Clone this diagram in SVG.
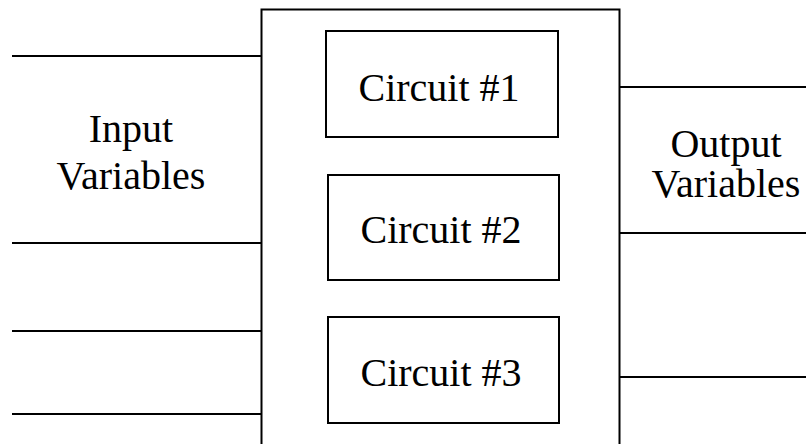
<svg xmlns="http://www.w3.org/2000/svg" width="806" height="444" viewBox="0 0 806 444">
  <style>
    .box { fill: #fff; stroke: #000; stroke-width: 2; }
    .wire { stroke: #000; stroke-width: 2; fill: none; }
    .label { font-family: "Liberation Serif", "Times New Roman", serif; font-size: 40px; fill: #000; text-anchor: middle; }
  </style>
  <rect width="806" height="444" fill="#fff"/>

  <!-- input and output wires -->
  <g id="connectors">
    <line class="wire" x1="12" y1="56" x2="262" y2="56"/>
    <line class="wire" x1="12" y1="243" x2="262" y2="243"/>
    <line class="wire" x1="12" y1="331" x2="262" y2="331" stroke-width="3"/>
    <line class="wire" x1="12" y1="414" x2="262" y2="414"/>
    <line class="wire" x1="558" y1="87" x2="806" y2="87"/>
    <line class="wire" x1="559" y1="233" x2="806" y2="233"/>
    <line class="wire" x1="559" y1="377" x2="806" y2="377"/>
  </g>

  <!-- enclosing block -->
  <g id="system">
    <rect class="box" x="261.5" y="9.5" width="358" height="450"/>
  </g>

  <g id="circuit1">
    <rect class="box" x="326" y="31" width="232" height="106"/>
    <text class="label" x="439" y="101">Circuit #1</text>
  </g>

  <g id="circuit2">
    <rect class="box" x="328" y="175" width="231" height="105"/>
    <text class="label" x="441" y="243">Circuit #2</text>
  </g>

  <g id="circuit3">
    <rect class="box" x="328" y="317" width="231" height="106"/>
    <text class="label" x="441" y="386">Circuit #3</text>
  </g>

  <g id="inputs-label">
    <text class="label" x="131" y="142">Input</text>
    <text class="label" x="131" y="189">Variables</text>
  </g>

  <g id="outputs-label">
    <text class="label" x="726" y="157">Output</text>
    <text class="label" x="726" y="197">Variables</text>
  </g>
</svg>
